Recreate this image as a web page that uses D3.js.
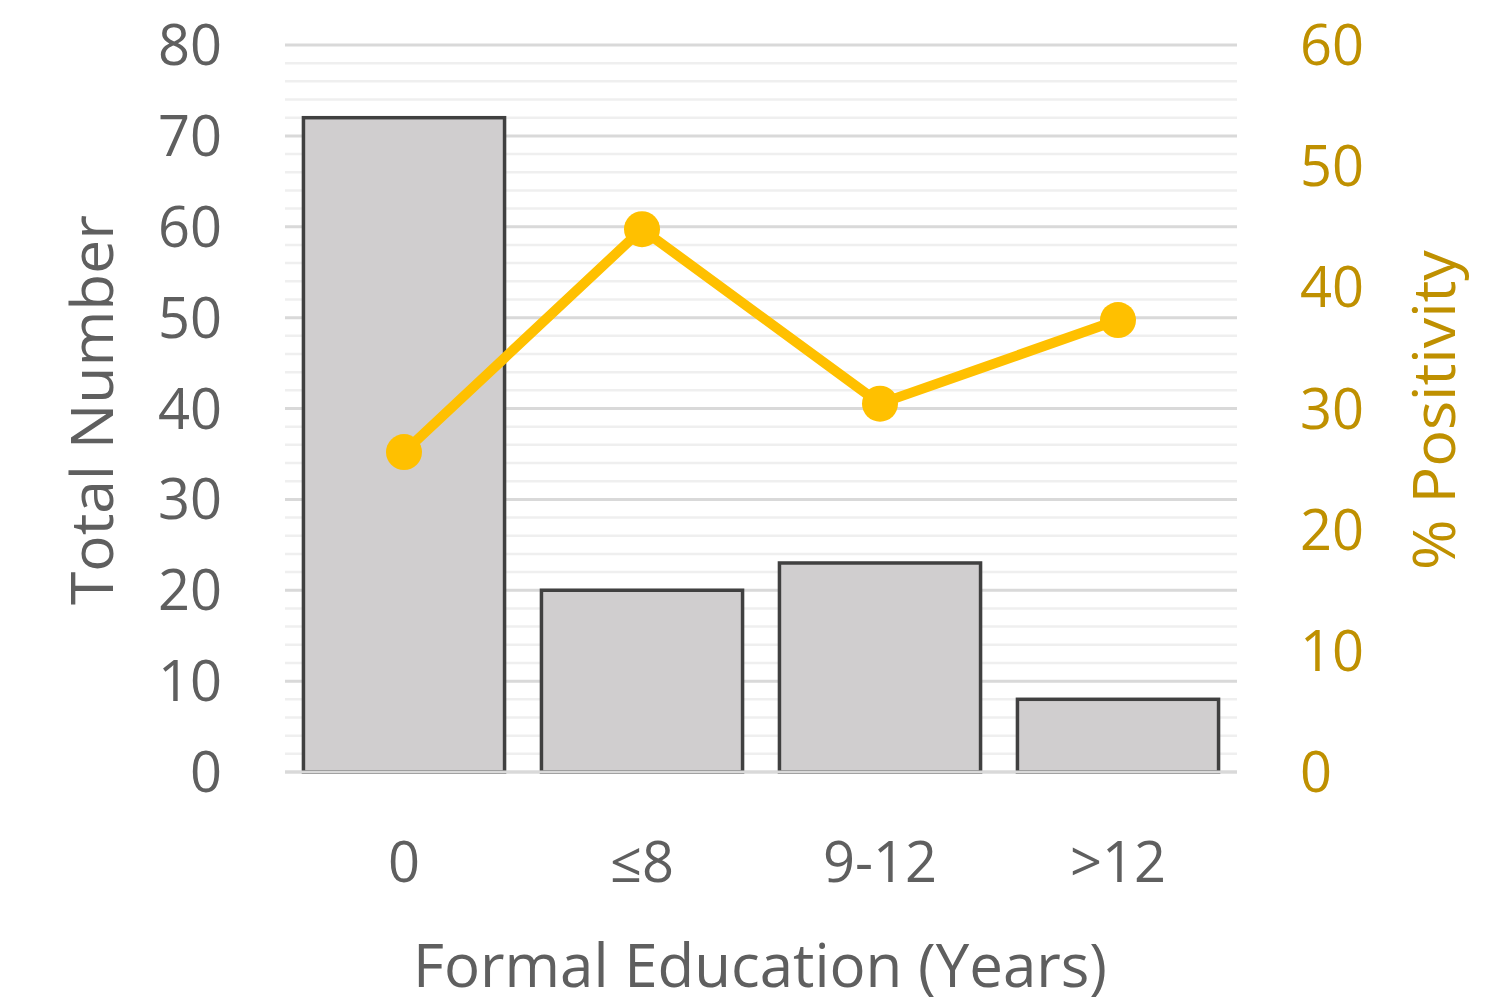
<!DOCTYPE html>
<html><head><meta charset="utf-8">
<script src="https://cdn.jsdelivr.net/npm/d3@7"></script>
<style>body{margin:0;background:#fff}svg{display:block}text{font-family:"Open Sans",sans-serif}</style>
</head><body>
<svg id="c" width="1511" height="1007"></svg>
<script>
const categories = ["0", "\u22648", "9-12", ">12"];
const totalNumber = [72, 20, 23, 8];
const positivity = [26.4, 44.8, 30.4, 37.3];
const leftTicks = [0, 10, 20, 30, 40, 50, 60, 70, 80];
const rightTicks = [0, 10, 20, 30, 40, 50, 60];
const minorStep = 2;

const svg = d3.select("#c");
const L = 285, R = 1237, T = 45, B = 772;
const x = d3.scaleBand().domain(categories).range([L, R]).paddingInner(0.155).paddingOuter(0.0775);
const yL = d3.scaleLinear().domain([0, 80]).range([B, T]);
const yR = d3.scaleLinear().domain([0, 60]).range([B, T]);

// minor gridlines
const minor = d3.range(0, 81, minorStep).filter(v => v % 10 !== 0);
svg.append("g").selectAll("line").data(minor).join("line")
  .attr("x1", L).attr("x2", R).attr("y1", d => yL(d)).attr("y2", d => yL(d))
  .attr("stroke", "#efefef").attr("stroke-width", 2.5);
// major gridlines
svg.append("g").selectAll("line").data(leftTicks).join("line")
  .attr("x1", L).attr("x2", R).attr("y1", d => yL(d)).attr("y2", d => yL(d))
  .attr("stroke", "#d9d9d9").attr("stroke-width", 3);

// bars
svg.append("g").selectAll("rect").data(categories).join("rect")
  .attr("x", d => x(d)).attr("width", x.bandwidth())
  .attr("y", (d, i) => yL(totalNumber[i])).attr("height", (d, i) => B - yL(totalNumber[i]))
  .attr("fill", "#d0cecf").attr("stroke", "#404040").attr("stroke-width", 3.5);

// baseline
svg.append("line").attr("x1", L).attr("x2", R).attr("y1", B).attr("y2", B)
  .attr("stroke", "#d9d9d9").attr("stroke-width", 3);

// left axis
const axL = d3.axisLeft(yL).tickValues(leftTicks).tickSize(0).tickPadding(0);
const gL = svg.append("g").attr("transform", "translate(222,0)").call(axL);
gL.select(".domain").remove();
gL.selectAll("text").attr("font-size", 56).attr("fill", "#5f5f5f").attr("font-family", "Open Sans").attr("dy", "0.35em");

// right axis
const axR = d3.axisRight(yR).tickValues(rightTicks).tickSize(0).tickPadding(0);
const gR = svg.append("g").attr("transform", "translate(1300,0)").call(axR);
gR.select(".domain").remove();
gR.selectAll("text").attr("font-size", 56).attr("fill", "#bf9000").attr("font-family", "Open Sans").attr("dy", "0.35em");

// bottom axis
const axB = d3.axisBottom(x).tickSize(0).tickPadding(0);
const gB = svg.append("g").attr("transform", "translate(0,862)").call(axB);
gB.select(".domain").remove();
gB.selectAll("text").attr("font-size", 56).attr("fill", "#5f5f5f").attr("font-family", "Open Sans").attr("dy", "0.35em");

// line
const line = d3.line().x((d, i) => x(categories[i]) + x.bandwidth() / 2).y(d => yR(d));
svg.append("path").datum(positivity).attr("d", line).attr("fill", "none")
  .attr("stroke", "#ffc000").attr("stroke-width", 10).attr("stroke-linejoin", "round");
svg.append("g").selectAll("circle").data(positivity).join("circle")
  .attr("cx", (d, i) => x(categories[i]) + x.bandwidth() / 2).attr("cy", d => yR(d))
  .attr("r", 18).attr("fill", "#ffc000");

// titles
svg.append("text").attr("x", 760).attr("y", 987).attr("text-anchor", "middle")
  .attr("font-size", 60).attr("fill", "#5f5f5f")
  .attr("textLength", 694).attr("lengthAdjust", "spacingAndGlyphs")
  .text("Formal Education (Years)");
svg.append("text").attr("transform", "translate(113,410) rotate(-90)").attr("text-anchor", "middle")
  .attr("font-size", 58).attr("fill", "#5f5f5f")
  .attr("textLength", 390).attr("lengthAdjust", "spacingAndGlyphs")
  .text("Total Number");
svg.append("text").attr("transform", "translate(1455,410) rotate(-90)").attr("text-anchor", "middle")
  .attr("font-size", 58).attr("fill", "#bf9000")
  .attr("textLength", 320).attr("lengthAdjust", "spacingAndGlyphs")
  .text("% Positivity");
</script>
</body></html>
